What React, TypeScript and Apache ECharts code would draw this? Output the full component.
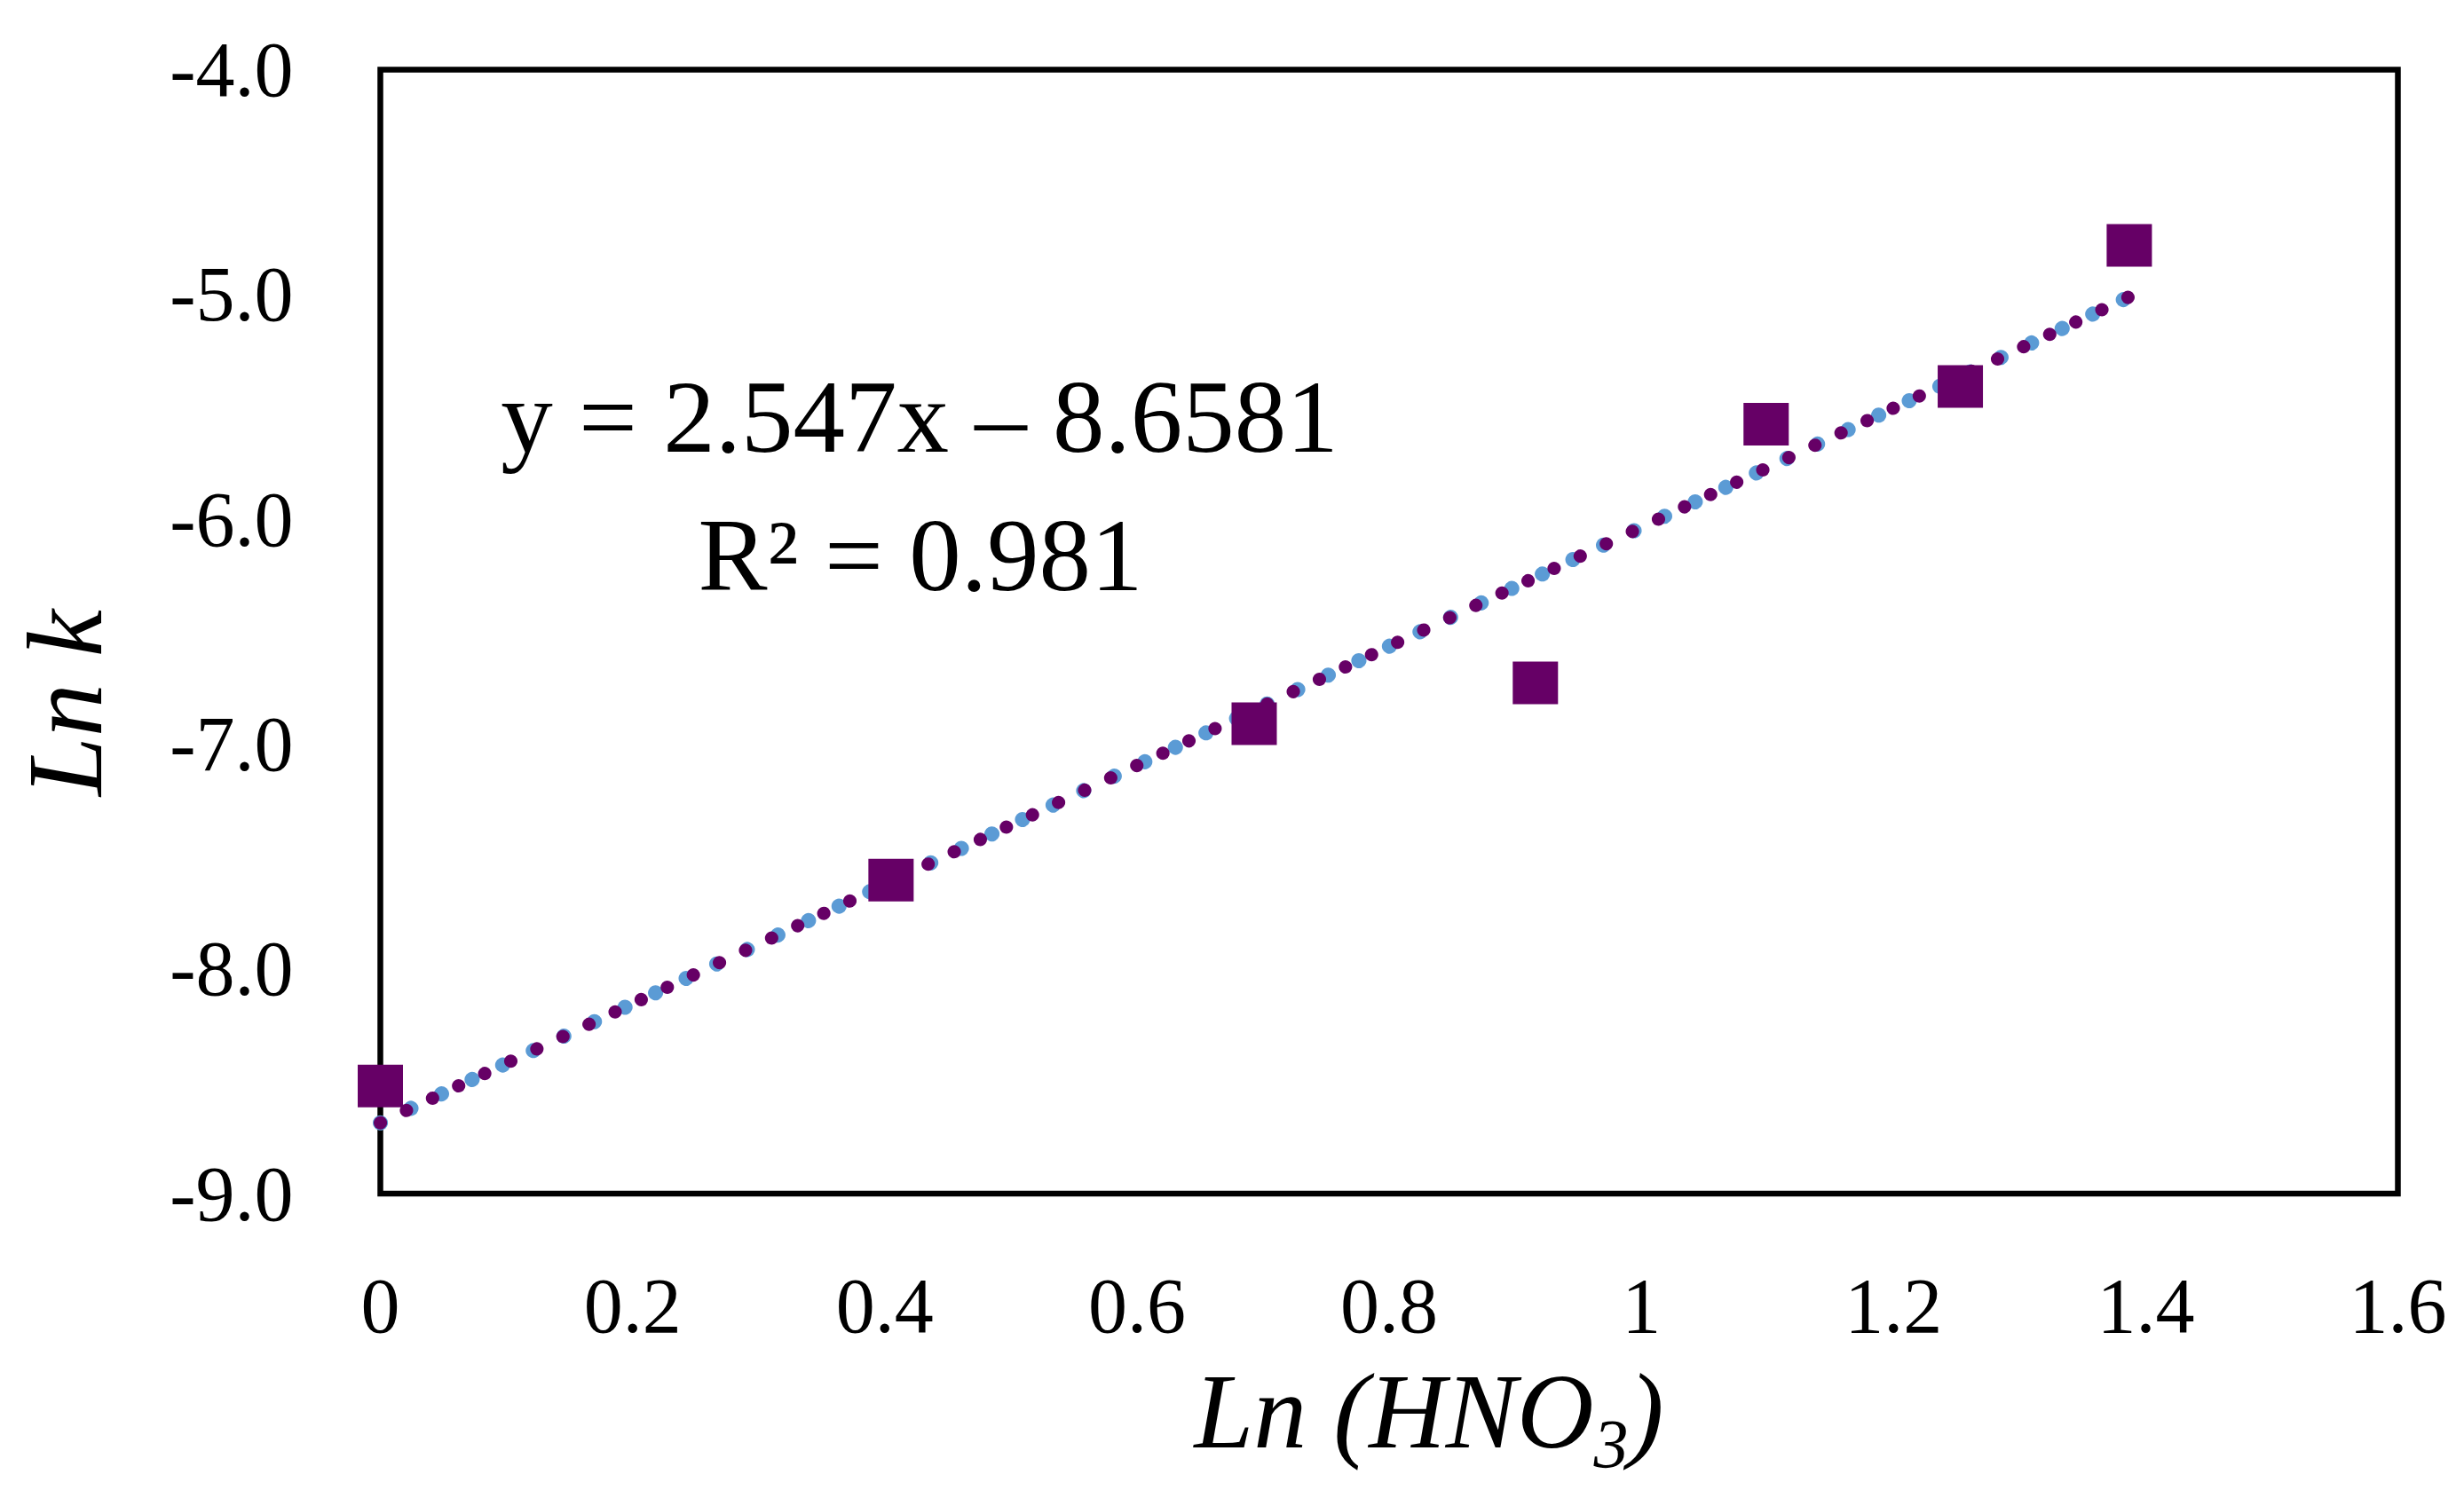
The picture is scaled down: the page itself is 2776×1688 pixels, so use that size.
import React, { useEffect, useRef } from "react";
import * as echarts from "echarts";

// Data
const lnHNO3 = [0, 0.405, 0.693, 0.916, 1.099, 1.253, 1.387];
const lnK = [-8.521, -7.605, -6.91, -6.728, -5.577, -5.409, -4.782];
const trendX = [0, 1.386];
const trendY = [-8.685, -5.013];
const xTicks = { min: 0, max: 1.6, interval: 0.2 };
const yTicks = { min: -9, max: -4, interval: 1 };
const equationText = "y = 2.547x \u2013 8.6581";
const r2Text = "R\u00B2 = 0.981";
const xName = "{i|Ln (HNO}{s|3}{i|)}";
const yName = "Ln k";

const FONT = "'Liberation Serif', 'Times New Roman', serif";
const PURPLE = "#660066";
const BLUE = "#5B9BD5";

export default function App() {
  const ref = useRef<HTMLDivElement>(null);
  useEffect(() => {
    if (!ref.current) return;
    const chart = echarts.init(ref.current, undefined, { renderer: "svg" });
    const points = lnHNO3.map((x, i) => [x, lnK[i]]);
    const trend = trendX.map((x, i) => [x, trendY[i]]);
    chart.setOption({
      animation: false,
      backgroundColor: "#fff",
      grid: {
        left: 428.5,
        right: 74.5,
        top: 78.5,
        bottom: 343,
        show: true,
        borderColor: "#000",
        borderWidth: 6.5,
        backgroundColor: "transparent",
      },
      xAxis: {
        type: "value",
        min: xTicks.min,
        max: xTicks.max,
        interval: xTicks.interval,
        axisLine: { show: false },
        axisTick: { show: false },
        splitLine: { show: false },
        axisLabel: {
          fontFamily: FONT,
          fontSize: 88,
          color: "#000",
          margin: 82,
          formatter: (v: number) => String(Math.round(v * 10) / 10),
        },
      },
      yAxis: {
        type: "value",
        min: yTicks.min,
        max: yTicks.max,
        interval: yTicks.interval,
        axisLine: { show: false },
        axisTick: { show: false },
        splitLine: { show: false },
        axisLabel: {
          fontFamily: FONT,
          fontSize: 88,
          color: "#000",
          margin: 98,
          formatter: (v: number) => v.toFixed(1),
        },
      },
      series: [
        {
          type: "line",
          data: trend,
          showSymbol: false,
          silent: true,
          z: 2,
          lineStyle: { color: BLUE, width: 17, type: [0.1, 38], cap: "round", opacity: 1 },
        },
        {
          type: "line",
          data: trend,
          showSymbol: false,
          silent: true,
          z: 3,
          lineStyle: { color: PURPLE, width: 15, type: [0.1, 32.4], cap: "round", opacity: 1 },
        },
        {
          type: "scatter",
          data: points,
          symbol: "rect",
          symbolSize: [51, 48],
          clip: false,
          z: 4,
          itemStyle: { color: PURPLE, opacity: 1 },
        },
      ],
      graphic: [
        {
          type: "text",
          x: 1036,
          y: 469,
          style: {
            text: equationText,
            fontFamily: FONT,
            fontSize: 117,
            fill: "#000",
            align: "center",
            verticalAlign: "middle",
          },
        },
        {
          type: "text",
          x: 1037,
          y: 625,
          style: {
            text: r2Text,
            fontFamily: FONT,
            fontSize: 117,
            fill: "#000",
            align: "center",
            verticalAlign: "middle",
          },
        },
        {
          type: "text",
          x: 1610,
          y: 1590,
          style: {
            text: xName,
            fontFamily: FONT,
            fontSize: 120,
            fill: "#000",
            align: "center",
            verticalAlign: "middle",
            rich: {
              i: { fontFamily: FONT, fontSize: 120, fontStyle: "italic", lineHeight: 150, fill: "#000" },
              s: { fontFamily: FONT, fontSize: 78, fontStyle: "italic", lineHeight: 78, verticalAlign: "bottom", fill: "#000" },
            },
          },
        },
        {
          type: "text",
          x: 73,
          y: 792,
          rotation: Math.PI / 2,
          style: {
            text: yName,
            fontFamily: FONT,
            fontSize: 120,
            fontStyle: "italic",
            fill: "#000",
            align: "center",
            verticalAlign: "middle",
          },
        },
      ],
    });
    return () => chart.dispose();
  }, []);
  return (
    <div
      ref={ref}
      style={{ position: "absolute", left: 0, top: 0, width: 2776, height: 1688 }}
    />
  );
}
